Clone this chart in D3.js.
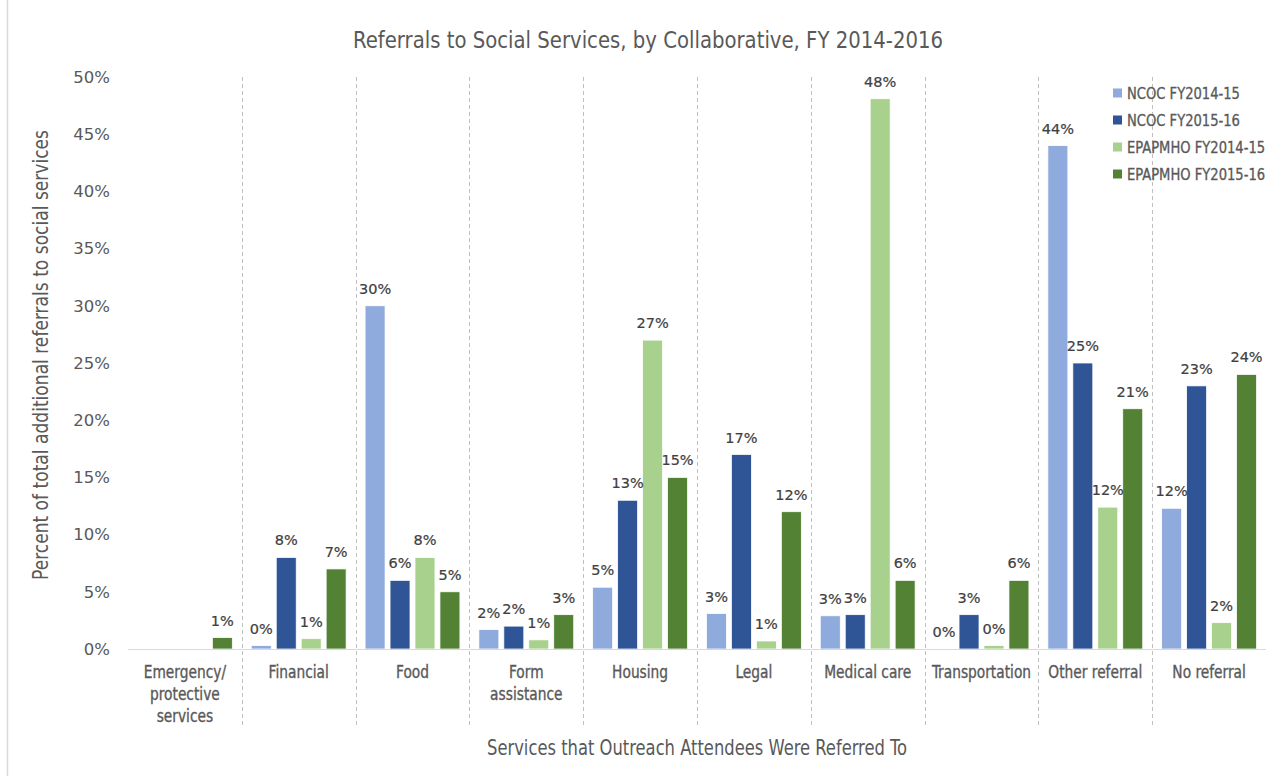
<!DOCTYPE html>
<html>
<head>
<meta charset="utf-8">
<script src="https://cdn.jsdelivr.net/npm/d3@7"></script>
<style>
  html, body { margin: 0; padding: 0; background: #fff; }
  svg { display: block; }
</style>
</head>
<body>
<svg id="chart" width="1287" height="776"></svg>
<script>
// Service categories (multi-line labels split on "\n")
const categories = [
  "Emergency/\nprotective\nservices",
  "Financial",
  "Food",
  "Form\nassistance",
  "Housing",
  "Legal",
  "Medical care",
  "Transportation",
  "Other referral",
  "No referral"
];

const seriesNames = [
  "NCOC FY2014-15",
  "NCOC FY2015-16",
  "EPAPMHO FY2014-15",
  "EPAPMHO FY2015-16"
];

// Percent of total additional referrals (null = no value reported)
const ncoc1415    = [null, 0.3, 30.0, 1.7,  5.4, 3.1,  2.9, 0.0, 44.0, 12.3];
const ncoc1516    = [null, 8.0,  6.0, 2.0, 13.0, 17.0, 3.0, 3.0, 25.0, 23.0];
const epapmho1415 = [null, 0.9,  8.0, 0.8, 27.0, 0.7, 48.1, 0.3, 12.4,  2.3];
const epapmho1516 = [1.0,  7.0,  5.0, 3.0, 15.0, 12.0, 6.0, 6.0, 21.0, 24.0];

const yTicks = [0, 5, 10, 15, 20, 25, 30, 35, 40, 45, 50];

const colors = ["#8FAADC", "#2F5597", "#A9D18E", "#548235"];
const textColor = "#595959";

const seriesValues = [ncoc1415, ncoc1516, epapmho1415, epapmho1516];

const svg = d3.select("#chart");
const W = 1287, H = 776;
const margin = { left: 128, right: 21, top: 77, bottom: 127 };
const plotW = W - margin.left - margin.right;
const plotH = H - margin.top - margin.bottom;

const narrow = "'Liberation Sans Narrow', 'DejaVu Sans Condensed', 'Arial Narrow', sans-serif";
const wide = "'DejaVu Sans', Verdana, sans-serif";

// squeeze text horizontally to get a condensed look
function condense(sel, factor) {
  sel.each(function () {
    const len = this.getComputedTextLength();
    d3.select(this).attr("textLength", len * factor).attr("lengthAdjust", "spacingAndGlyphs");
  });
}

// outer frame edge on the left
svg.append("line")
  .attr("x1", 7.5).attr("x2", 7.5).attr("y1", 0).attr("y2", H)
  .attr("stroke", "#d9d9d9").attr("stroke-width", 1.5);

const g = svg.append("g").attr("transform", `translate(${margin.left},${margin.top})`);

const x0 = d3.scaleBand().domain(d3.range(categories.length)).range([0, plotW]).padding(0);
const x1 = d3.scaleBand().domain(d3.range(seriesNames.length))
  .range([0, x0.bandwidth()]).paddingInner(0.2).paddingOuter(0.38);
const y = d3.scaleLinear().domain([0, 50]).range([plotH, 0]);

// dashed category separators
g.selectAll("line.sep")
  .data(d3.range(1, categories.length))
  .join("line")
  .attr("class", "sep")
  .attr("x1", d => Math.round(x0(d)) + 0.5)
  .attr("x2", d => Math.round(x0(d)) + 0.5)
  .attr("y1", 0)
  .attr("y2", plotH + 79)
  .attr("stroke", "#bfbfbf")
  .attr("stroke-width", 1)
  .attr("stroke-dasharray", "4,3");

// y axis tick labels
const yAxis = d3.axisLeft(y).tickValues(yTicks).tickFormat(d => d + "%").tickSize(0).tickPadding(18);
const yg = g.append("g").call(yAxis);
yg.select(".domain").remove();
yg.selectAll("text")
  .attr("fill", textColor)
  .style("font-family", wide)
  .style("font-size", "16.5px");

// bars
const rows = [];
categories.forEach((c, ci) => {
  seriesValues.forEach((vals, si) => {
    if (vals[ci] !== null) rows.push({ ci, si, v: vals[ci] });
  });
});

g.selectAll("rect.bar")
  .data(rows)
  .join("rect")
  .attr("class", "bar")
  .attr("x", d => x0(d.ci) + x1(d.si))
  .attr("width", x1.bandwidth())
  .attr("y", d => y(d.v))
  .attr("height", d => plotH - y(d.v))
  .attr("fill", d => colors[d.si])
  .attr("stroke", "#ffffff")
  .attr("stroke-width", 0.75);

// value labels
g.selectAll("text.val")
  .data(rows)
  .join("text")
  .attr("class", "val")
  .attr("x", d => x0(d.ci) + x1(d.si) + x1.bandwidth() / 2)
  .attr("y", d => y(d.v) - 12)
  .attr("text-anchor", "middle")
  .attr("fill", "#404040")
  .attr("stroke", "#404040")
  .attr("stroke-width", 0.2)
  .style("font-family", wide)
  .style("font-size", "14.5px")
  .text(d => Math.round(d.v) + "%");

// baseline
g.append("line")
  .attr("x1", 0).attr("x2", plotW)
  .attr("y1", plotH + 0.5).attr("y2", plotH + 0.5)
  .attr("stroke", "#d9d9d9").attr("stroke-width", 1.2);

// category labels, one text element per line
const catLines = [];
categories.forEach((c, i) => c.split("\n").forEach((line, k) => catLines.push({ i, k, line })));
const catText = g.selectAll("text.cat")
  .data(catLines)
  .join("text")
  .attr("class", "cat")
  .attr("x", d => x0(d.i) + x0.bandwidth() / 2)
  .attr("y", d => plotH + 29 + d.k * 22)
  .attr("text-anchor", "middle")
  .attr("fill", textColor)
  .attr("stroke", textColor)
  .attr("stroke-width", 0.35)
  .style("font-family", narrow)
  .style("font-size", "18px")
  .text(d => d.line);
condense(catText, 0.85);

// title
svg.append("text")
  .attr("x", 648).attr("y", 48)
  .attr("text-anchor", "middle")
  .attr("fill", textColor)
  .attr("textLength", 590)
  .attr("lengthAdjust", "spacingAndGlyphs")
  .style("font-family", narrow)
  .style("font-size", "23.5px")
  .text("Referrals to Social Services, by Collaborative,  FY 2014-2016");

// x axis title
svg.append("text")
  .attr("x", margin.left + plotW / 2).attr("y", 755)
  .attr("text-anchor", "middle")
  .attr("fill", textColor)
  .attr("textLength", 420)
  .attr("lengthAdjust", "spacingAndGlyphs")
  .style("font-family", narrow)
  .style("font-size", "20.5px")
  .text("Services that Outreach Attendees Were Referred To");

// y axis title
svg.append("text")
  .attr("transform", `translate(48,${margin.top + plotH / 2 - 8}) rotate(-90)`)
  .attr("text-anchor", "middle")
  .attr("fill", textColor)
  .attr("textLength", 450)
  .attr("lengthAdjust", "spacingAndGlyphs")
  .style("font-family", narrow)
  .style("font-size", "20.5px")
  .text("Percent of total additional referrals to social services");

// legend
const lg = svg.append("g").attr("transform", "translate(1113,93)");
const items = lg.selectAll("g.item")
  .data(seriesNames)
  .join("g")
  .attr("class", "item")
  .attr("transform", (d, i) => `translate(0,${i * 27})`);
items.append("rect")
  .attr("x", 0).attr("y", -4.5).attr("width", 9).attr("height", 9)
  .attr("fill", (d, i) => colors[i]);
const legText = items.append("text")
  .attr("x", 14).attr("y", 5.5)
  .attr("fill", textColor)
  .attr("stroke", textColor)
  .attr("stroke-width", 0.3)
  .style("font-family", narrow)
  .style("font-size", "15.5px")
  .text(d => d);
condense(legText, 0.94);
</script>
</body>
</html>
